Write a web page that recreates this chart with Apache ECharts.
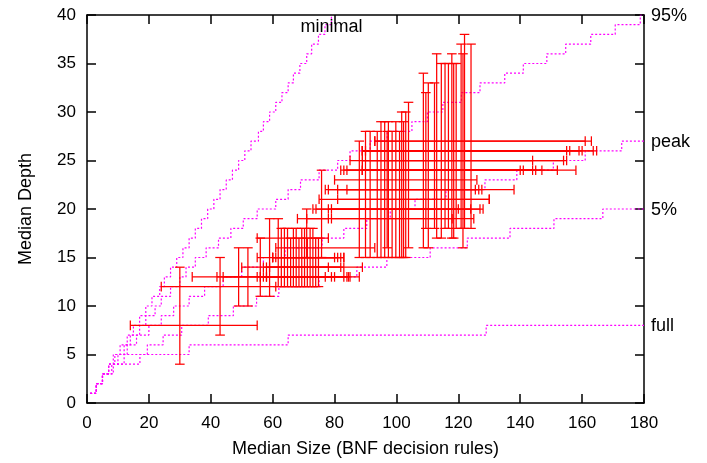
<!DOCTYPE html>
<html>
<head>
<meta charset="utf-8">
<script src="https://cdn.jsdelivr.net/npm/echarts@6/dist/echarts.min.js"></script>
<style>
html,body{margin:0;padding:0;background:#fff;}
#chart{width:707px;height:463px;}
</style>
</head>
<body>
<div id="chart"></div>
<script>
// ---- error-bar data: median size/depth with their ranges ----
const sizeMedian = [30,43,49,52,56,59,61.8,62.8,63.8,64.8,65.8,66.7,67.6,68.5,69.4,70.3,71.2,72.1,73.0,73.9,74.8,71,75.8,88,90,91.5,93.8,95,96.2,97.4,98.6,99.8,101,101.7,103,103.9,102.3,97,108.7,109.5,110.3,112.3,113,115.7,116.8,117.9,119.3,120.9,122,124.1,118.5,114.5,121.5];
const sizeLow    = [14,24,34,42,50,44,55,55,57,60,56,58,61,57,61,59,60,58,55,60,58,68,73,75,77,74,71,78,78,80,82,81,79,83,81,84,79,84,89,85,89,89,89,89,93,89,89,90,93,89,89,89,89];
const sizeHigh   = [55,61,88,85,89,84,83,77,78,80,79,82,81,80,93,83,82,83,78,83,84.5,78,128,130,125.5,120,125,126.6,127,126,140,127.6,124,141,130,138,118,144,145,144,155,147,156,154,161,159,152,160,163,164.7,155,158,163.6];
const depthMedian= [8,12,13,13,14,13,15,13,14,15,13,14,15,13,16,14,15,13,17,15,13,19,20,21,22,20,19,22,20,23,24,22,20,24,21,22,19,24,24,25,26,24,26,25,27,26,24,26,27,26,25,24,26];
const depthLow   = [4,7,10,10,11,11,12,12,12,12,12,12,12,12,12,12,12,12,12,12,12,15,15,15,15,15,15,15,15,15,15,15,15,15,15,16,15,16,16,18,16,18,17,18,18,17,18,18,18,18,17,17,16];
const depthHigh  = [14,15,16,16,17,19,19,18,18,18,17,18,18,17,18,18,17,18,18,17,17,20,24,27,28,28,28,29,29,29,28,29,28,30,30,31,29,28,34,32,33,33,36,35,35,36,35,37,38,37,35,35,36];

// ---- step curves [size, depth] ----
const minimalSteps = [[1,1],[3,2],[5,3],[7,4],[8.5,5],[10.7,6],[13,7],[15,8],[17,9],[19,10],[21,11],[23.5,12],[25,13],[27,14],[29,15],[31,16],[33,17],[35,18],[37,19],[39,20],[41,21],[43,22],[45,23],[47,24],[49,25],[51,26],[53,27],[55.4,28],[57,29],[59,30],[61,31],[63,32],[65,33],[66.7,34],[68.8,35],[71,36],[72.6,37],[74.8,38],[76.9,39],[79,40]];
const p95Steps = [[1,1],[3,2],[5,3],[7,4],[9,5],[12,6],[14,7],[17,8],[19,9],[22,10],[24,11],[27,12],[30,13],[32,14],[35,15],[38.5,16],[42.5,17],[46.5,18],[50.5,19],[55,20],[61,21],[65,22],[69,23],[75,24],[81,25],[85,26],[91.5,27],[97,28],[105,29],[110,30],[115,31],[121,32],[127,33],[135,34],[141,35],[148.6,36],[154.7,37],[162.8,38],[170.7,39],[178.8,40],[180,40]];
const peakSteps = [[1,1],[3,2],[5,3],[7,4],[10,5],[13,6],[16,7],[20,8],[24,9],[28,10],[33,11],[38,12],[44,13],[50,14],[57,15],[64,16],[76,17],[83,18],[90.4,19],[98,20],[106,21],[116,22],[128.6,23],[138.9,24],[150.7,25],[161,26],[172.8,27],[180,27]];
const p5Steps = [[1,1],[3,2],[5,3],[8,4],[12,5],[19.5,6],[24.6,7],[30.6,8],[39.2,9],[47.3,10],[54.8,11],[62,12],[75,13],[87.2,14],[96.9,15],[110.9,16],[122.9,17],[136.7,18],[150.9,19],[166.7,20],[180,20]];
const fullSteps = [[1,1],[3,2],[5,3],[8.5,4],[17.1,5],[33,6],[65,7],[129,8],[180,8]];

const curveNames = ['minimal','95%','peak','5%','full'];
const curveData = [minimalSteps, p95Steps, peakSteps, p5Steps, fullSteps];

const xTitle = 'Median Size (BNF decision rules)';
const yTitle = 'Median Depth';

const FONT = '"Liberation Sans", Arial, Helvetica, sans-serif';
const chart = echarts.init(document.getElementById('chart'), null, {renderer:'canvas'});

const errData = sizeMedian.map((v,i)=>[v,sizeLow[i],sizeHigh[i],depthMedian[i],depthLow[i],depthHigh[i]]);

function renderErr(params, api){
  const xm=api.value(0), xl=api.value(1), xh=api.value(2), ym=api.value(3), yl=api.value(4), yh=api.value(5);
  const pm=api.coord([xm,ym]);
  const pxl=api.coord([xl,ym]), pxh=api.coord([xh,ym]);
  const pyl=api.coord([xm,yl]), pyh=api.coord([xm,yh]);
  const c=4.8;
  const st={stroke:'#ff0000', lineWidth:1.25};
  const L=(x1,y1,x2,y2)=>({type:'line', shape:{x1,y1,x2,y2}, style:st});
  return {type:'group', children:[
    L(pxl[0],pm[1],pxh[0],pm[1]),
    L(pxl[0],pm[1]-c,pxl[0],pm[1]+c),
    L(pxh[0],pm[1]-c,pxh[0],pm[1]+c),
    L(pm[0],pyl[1],pm[0],pyh[1]),
    L(pm[0]-c,pyl[1],pm[0]+c,pyl[1]),
    L(pm[0]-c,pyh[1],pm[0]+c,pyh[1])
  ]};
}

const axisCommon = {
  axisLine:{show:true, onZero:false, lineStyle:{color:'#000', width:1.5}},
  axisTick:{show:true, inside:true, length:9, lineStyle:{color:'#000', width:1.5}},
  splitLine:{show:false}
};

const lineSeries = curveNames.map((n,i)=>{
  const isMin = i===0;
  return {
    type:'line', name:n, data:curveData[i], step:'end', showSymbol:false, symbol:'none',
    xAxisIndex:0, yAxisIndex:0, z:2, clip:true,
    lineStyle:{color:'#ff00ff', width:1.2, type:[2,2]},
    endLabel:{show:true, formatter:n, color:'#000', fontSize:18, fontFamily:FONT,
      align: isMin ? 'center' : 'left', verticalAlign: isMin ? 'top' : 'middle',
      distance: isMin ? 0 : 7, offset: isMin ? [0,3] : [0,1]}
  };
});

chart.setOption({
  animation:false,
  backgroundColor:'#fff',
  textStyle:{fontFamily:FONT},
  grid:{left:87, right:63, top:15, bottom:55, containLabel:false},
  xAxis:[
    Object.assign({type:'value', min:0, max:180, interval:20, position:'bottom',
      name:xTitle, nameLocation:'middle', nameGap:37,
      nameTextStyle:{color:'#000', fontSize:18, fontFamily:FONT},
      axisLabel:{color:'#000', fontSize:17, margin:12, fontFamily:FONT}}, axisCommon),
    Object.assign({type:'value', min:0, max:180, interval:20, position:'top',
      axisLabel:{show:false}}, axisCommon)
  ],
  yAxis:[
    Object.assign({type:'value', min:0, max:40, interval:5, position:'left',
      name:yTitle, nameLocation:'middle', nameGap:52,
      nameTextStyle:{color:'#000', fontSize:18, fontFamily:FONT},
      axisLabel:{color:'#000', fontSize:17, margin:11, fontFamily:FONT}}, axisCommon),
    Object.assign({type:'value', min:0, max:40, interval:5, position:'right',
      axisLabel:{show:false}}, axisCommon)
  ],
  series: lineSeries.concat([{
    type:'custom', name:'errors', renderItem:renderErr, data:errData,
    xAxisIndex:0, yAxisIndex:0, z:5,
    encode:{x:[0,1,2], y:[3,4,5]}
  }])
});
</script>
</body>
</html>
